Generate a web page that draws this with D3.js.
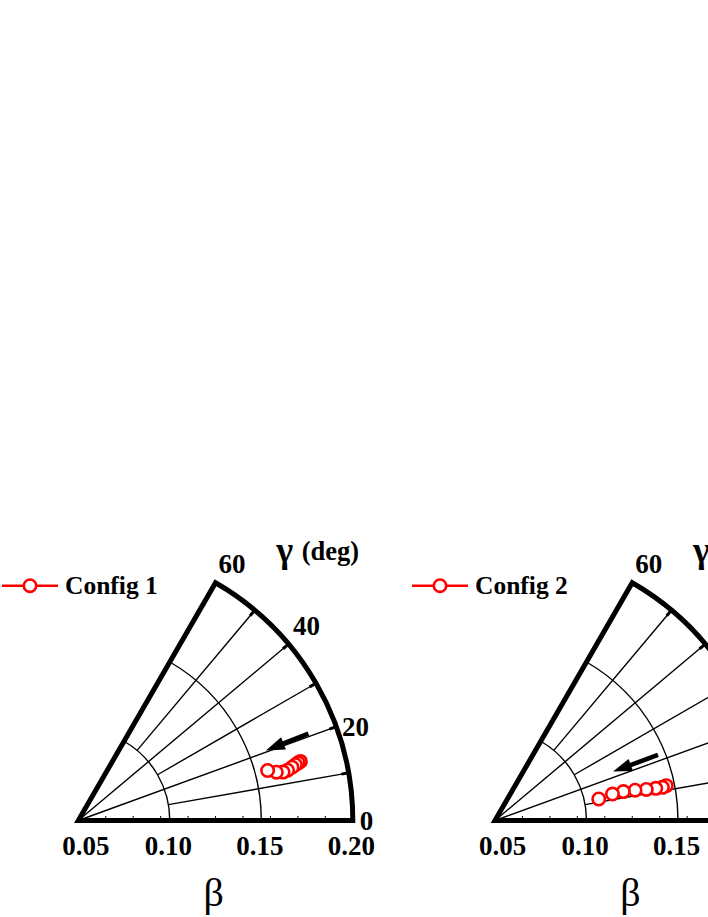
<!DOCTYPE html>
<html><head><meta charset="utf-8">
<script src="https://cdn.jsdelivr.net/npm/d3@7"></script>
<style>body{margin:0;background:#fff} svg{display:block}</style>
</head><body><svg id="c" width="708" height="917"></svg>
<script>
// ---------- data ----------
const betaTicks = [0.05, 0.10, 0.15, 0.20];
const betaTickLabels = ["0.05", "0.10", "0.15", "0.20"];
const gammaTicks = [0, 20, 40, 60];
const gammaTickLabels = ["0", "20", "40", "60"];
const gammaSpokes = [10, 20, 30, 40, 50];
const seriesNames = ["Config 1", "Config 2"];
// points listed in sequence (start at right, progressing left)
const config1Beta  = [0.1756, 0.1742, 0.1725, 0.1704, 0.1676, 0.1650, 0.1614, 0.1570];
const config1Gamma = [14.9, 14.7, 14.4, 14.0, 13.5, 13.3, 13.7, 14.8];
const config2Beta  = [0.1455, 0.1433, 0.1396, 0.1344, 0.1283, 0.1219, 0.1158, 0.1079];
const config2Gamma = [11.5, 11.2, 11.3, 11.6, 12.2, 12.7, 12.7, 11.7];
// trend arrows: [beta, gamma] tail -> head
const arrow1 = [[0.1844, 20.7], [0.1594, 20.5]];
const arrow2 = [[0.1460, 21.9], [0.1198, 22.5]];

// ---------- layout ----------
const svg = d3.select("#c");
const R = 274.5;
const rScale = d3.scaleLinear().domain([0.05, 0.20]).range([0, R]);
const aScale = d3.scaleLinear().domain([0, 60]).range([0, Math.PI / 3]);
const FONT = "'Liberation Serif','Times New Roman',serif";

const panels = [
  {ox: 78.3, oy: 820.5, name: seriesNames[0], beta: config1Beta, gamma: config1Gamma, arrow: arrow1, legX: 30},
  {ox: 495,  oy: 820.5, name: seriesNames[1], beta: config2Beta, gamma: config2Gamma, arrow: arrow2, legX: 440}
];

function drawPanel(p) {
  const g = svg.append("g").attr("transform", `translate(${p.ox},${p.oy})`);
  const pt = (b, gm) => {
    const r = rScale(b), a = aScale(gm);
    return [r * Math.cos(a), -r * Math.sin(a)];
  };

  // grid arcs
  [0.10, 0.15].forEach(b => {
    const path = d3.path();
    const r = rScale(b);
    path.moveTo(r, 0);
    path.arc(0, 0, r, 0, -aScale(60), true);
    g.append("path").attr("d", path.toString()).attr("fill", "none")
      .attr("stroke", "#000").attr("stroke-width", 1.4);
  });

  // spokes: 20 & 40 from origin, others from 0.10 arc
  gammaSpokes.forEach(gm => {
    const b0 = (gm % 20 === 0) ? 0.05 : 0.10;
    const [x0, y0] = pt(b0, gm), [x1, y1] = pt(0.20, gm);
    g.append("line").attr("x1", x0).attr("y1", y0).attr("x2", x1).attr("y2", y1)
      .attr("stroke", "#000").attr("stroke-width", 1.4);
    const [tx, ty] = pt(0.20 - 0.004, gm);
    g.append("line").attr("x1", tx).attr("y1", ty).attr("x2", x1).attr("y2", y1)
      .attr("stroke", "#000").attr("stroke-width", 3);
  });

  // minor ticks on baseline
  d3.range(1, 10).forEach(k => {
    const x = k * R / 10;
    g.append("line").attr("x1", x).attr("x2", x).attr("y1", 0).attr("y2", -4.5)
      .attr("stroke", "#000").attr("stroke-width", 1);
  });

  // thick frame
  const frame = d3.path();
  frame.moveTo(...pt(0.05, 60));
  frame.lineTo(0, 0);
  frame.lineTo(R, 0);
  frame.arc(0, 0, R, 0, -aScale(60), true);
  frame.closePath();
  g.append("path").attr("d", frame.toString()).attr("fill", "none")
    .attr("stroke", "#000").attr("stroke-width", 5).attr("stroke-linejoin", "miter");

  // radial tick labels
  betaTicks.forEach((b, i) => {
    g.append("text").attr("x", rScale(b) + (i === 0 ? 7.5 : -1.5)).attr("y", 34.5)
      .attr("text-anchor", "middle").attr("font-family", FONT).attr("font-weight", "bold")
      .attr("font-size", 27).text(betaTickLabels[i]);
  });

  // angular tick labels
  gammaTicks.forEach((gm, i) => {
    const [x, y] = pt(0.20, gm);
    g.append("text").attr("x", x + 7 - gm / 15).attr("y", y + (gm >= 40 ? -9.5 : 9))
      .attr("font-family", FONT).attr("font-weight", "bold").attr("font-size", 27)
      .text(gammaTickLabels[i]);
  });

  // axis titles
  g.append("text").attr("x", 135.5).attr("y", 85).attr("text-anchor", "middle")
    .attr("font-family", FONT).attr("font-size", 40).text("β");
  g.append("text").attr("x", 198).attr("y", -259).attr("font-family", FONT)
    .attr("font-weight", "bold").attr("font-size", 36).text("γ");
  g.append("text").attr("x", 223.5).attr("y", -261).attr("font-family", FONT)
    .attr("font-weight", "bold").attr("font-size", 26.5).text("(deg)");

  // arrow
  const [ax0, ay0] = pt(...p.arrow[0]), [ax1, ay1] = pt(...p.arrow[1]);
  const ang = Math.atan2(ay1 - ay0, ax1 - ax0);
  const hl = 19, hw = 6.5;
  const bx = ax1 - hl * Math.cos(ang), by = ay1 - hl * Math.sin(ang);
  g.append("line").attr("x1", ax0).attr("y1", ay0).attr("x2", bx + 2 * Math.cos(ang)).attr("y2", by + 2 * Math.sin(ang))
    .attr("stroke", "#000").attr("stroke-width", 4.5);
  g.append("path").attr("d",
    `M${ax1},${ay1}L${bx - hw * Math.sin(ang)},${by + hw * Math.cos(ang)}L${bx + hw * Math.sin(ang)},${by - hw * Math.cos(ang)}Z`)
    .attr("fill", "#000");

  // data points
  g.selectAll("circle.pt").data(d3.zip(p.beta, p.gamma)).join("circle")
    .attr("class", "pt")
    .attr("cx", d => pt(d[0], d[1])[0]).attr("cy", d => pt(d[0], d[1])[1])
    .attr("r", 6.2).attr("fill", "#fff").attr("stroke", "#ff0000").attr("stroke-width", 2.6);

  // legend
  const lg = svg.append("g").attr("transform", `translate(${p.legX},585.7)`);
  lg.append("line").attr("x1", -28).attr("x2", 28).attr("y1", 0).attr("y2", 0)
    .attr("stroke", "#ff0000").attr("stroke-width", 2.5);
  lg.append("circle").attr("r", 6.2).attr("fill", "#fff").attr("stroke", "#ff0000").attr("stroke-width", 2.6);
  lg.append("text").attr("x", 35).attr("y", 8.5).attr("font-family", FONT).attr("font-weight", "bold")
    .attr("font-size", 25.5).text(p.name);
}

panels.forEach(drawPanel);
</script>
</body></html>
